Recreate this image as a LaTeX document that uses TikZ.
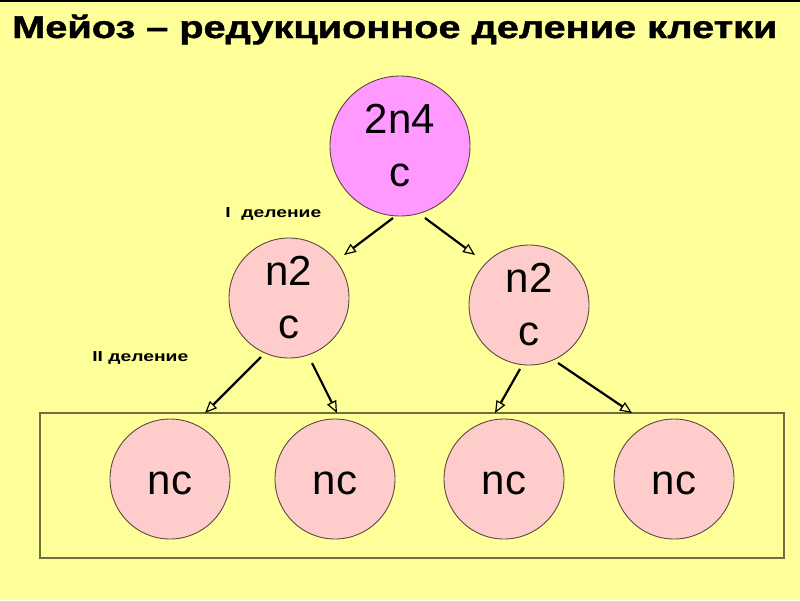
\documentclass[tikz,border=0pt]{standalone}
\usepackage{fontspec}
\setmainfont{Liberation Sans}
\newfontfamily\titlefont[FakeBold=1.2]{Liberation Sans Bold}
\usetikzlibrary{arrows.meta}
\definecolor{bg}{HTML}{FFFF99}
\definecolor{cellA}{HTML}{FF99FF}
\definecolor{cellB}{HTML}{FFCCCC}
\definecolor{edgeC}{HTML}{5A4A40}
\definecolor{boxC}{HTML}{6E6E40}
\newcommand{\lowtxt}[1]{\raisebox{-4pt}[\height][\depth]{#1}}
\tikzset{
  cell/.style={circle, draw=edgeC, line width=0.9pt, minimum size=#1, inner sep=0pt, align=center,
    font=\fontsize{42}{53}\selectfont},
  arr/.style={line width=2.2pt, -{Triangle[open, length=12pt, width=10pt, line width=1.2pt]}},
  lbl/.style={font=\bfseries\fontsize{14.5}{18}\selectfont, anchor=base west, inner sep=0pt, xscale=1.33},
}
\begin{document}
\begin{tikzpicture}[x=1pt, y=-1pt]
\fill[bg] (0,0) rectangle (800,600);
\useasboundingbox (0,0) rectangle (800,600);
\fill[black] (0,0) rectangle (800,2);
\node[anchor=base west, inner sep=0pt, font=\titlefont\fontsize{31.5}{36}\selectfont, xscale=1.26] (title) at (12,38) {Мейоз – редукционное деление клетки};
\draw[boxC, line width=1.2pt] (40,413) rectangle (784,558);
\node[cell=140pt, fill=cellA] (top) at (400,146) {2n4\\c};
\node[cell=120pt, fill=cellB] (ml) at (289,298) {n2\\c};
\node[cell=120pt, fill=cellB] (mr) at (529,305) {n2\\c};
\node[cell=120pt, fill=cellB] (b1) at (170,479) {\lowtxt{nc}};
\node[cell=120pt, fill=cellB] (b2) at (335,479) {\lowtxt{nc}};
\node[cell=120pt, fill=cellB] (b3) at (504,479) {\lowtxt{nc}};
\node[cell=120pt, fill=cellB] (b4) at (674,479) {\lowtxt{nc}};
\node[lbl] (l1) at (225,217) {I\ \ деление};
\node[lbl] (l2) at (92,361) {II деление};
\coordinate (s1) at (393,218); \coordinate (e1) at (344,255);
\coordinate (s2) at (425,218); \coordinate (e2) at (475,255);
\coordinate (s3) at (261,357); \coordinate (e3) at (205,413);
\coordinate (s4) at (312,363); \coordinate (e4) at (337,413);
\coordinate (s5) at (520,369); \coordinate (e5) at (495,413);
\coordinate (s6) at (558,363); \coordinate (e6) at (632,413);
\draw[arr] (s1) -- (e1);
\draw[arr] (s2) -- (e2);
\draw[arr] (s3) -- (e3);
\draw[arr] (s4) -- (e4);
\draw[arr] (s5) -- (e5);
\draw[arr] (s6) -- (e6);
\end{tikzpicture}
\end{document}
